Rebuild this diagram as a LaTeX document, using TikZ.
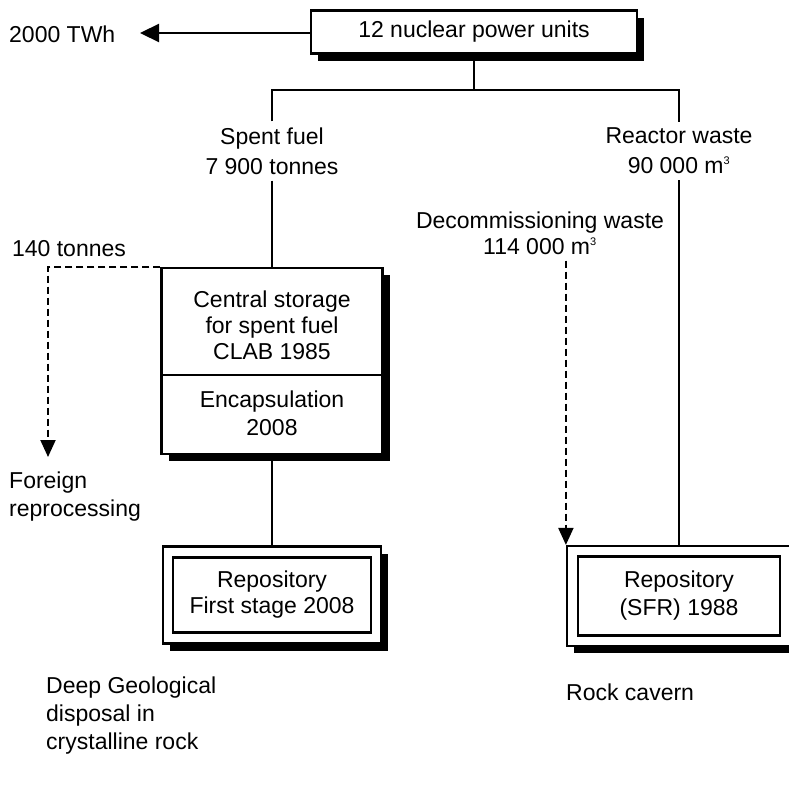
\documentclass[tikz,border=0pt]{standalone}
\usepackage{fontspec}
\setmainfont{Liberation Sans}
\usetikzlibrary{arrows.meta,shadows}
\newcommand\cubic{\textsuperscript{\fontsize{11}{11}\selectfont 3}}
\begin{document}
\begin{tikzpicture}[x=1pt,y=-1pt,
  every node/.style={font=\fontsize{23}{28}\selectfont, align=center, inner sep=2pt},
  label text/.style={inner ysep=6pt},
  box/.style={draw, line width=2.2pt, fill=white,
    drop shadow={shadow xshift=7pt, shadow yshift=-7pt, fill=black, opacity=1}},
  inbox/.style={draw, line width=2.2pt},
  conn/.style={line width=2.2pt},
  arr/.style={line width=2.2pt, -{Triangle[length=19pt,width=18pt]}},
  dasharrow/.style={line width=2pt, dash pattern=on 7pt off 4pt,
    -{Triangle[length=17pt,width=15pt]}}]
\useasboundingbox (0,0) rectangle (789,787);

% power units and electricity output
\node[box, minimum width=326pt, minimum height=43pt] (units) at (474,32) {12 nuclear power units};
\node[anchor=west] (twh) at (7,34) {2000 TWh};
\coordinate (twhtip) at (140,33);
\draw[arr] (units.west |- twhtip) -- (twhtip);

% split into the two waste streams
\coordinate (fork) at (474,90);
\node[label text, font=\fontsize{23}{30}\selectfont] (spent) at (272,151) {Spent fuel\\7 900 tonnes};
\node[label text, font=\fontsize{23}{30}\selectfont] (waste) at (679,151) {Reactor waste\\90 000 m\cubic};
\draw[conn] (units.south) -- (fork);
\draw[conn] (spent.north) |- (fork) -| (waste.north);

% interim storage and encapsulation
\node[box, minimum width=221pt, minimum height=186pt] (clab) at (272,361) {};
\node[font=\fontsize{23}{26}\selectfont] (clabtxt) at (272,325) {Central storage\\for spent fuel\\CLAB 1985};
\draw[conn] ([yshift=-14pt]clab.west) -- ([yshift=-14pt]clab.east);
\node (encap) at (272,413) {Encapsulation\\2008};
\draw[conn] (spent.south) -- (clab.north);

% reprocessing abroad
\node (tonnes) at (69,249) {140 tonnes};
\coordinate (foreigntip) at (48,457);
\draw[dasharrow] (clab.north west) -| (foreigntip);
\node[anchor=west, align=left] (foreign) at (7,497) {Foreign\\reprocessing};

% final repository for spent fuel
\node[box, minimum width=218pt, minimum height=97pt] (repo1) at (272,595) {};
\node[inbox, minimum width=198pt, minimum height=75pt, font=\fontsize{23}{26}\selectfont] (repo1in) at (repo1) {Repository\\First stage 2008};
\draw[conn] (clab.south) -- (repo1.north);

% repository for operational and decommissioning waste
\node[box, minimum width=224pt, minimum height=100pt] (repo2) at (679,596) {};
\node[inbox, minimum width=202pt, minimum height=79pt] (repo2in) at (repo2) {Repository\\(SFR) 1988};
\draw[conn] (waste.south) -- (repo2.north);
\node[label text, font=\fontsize{23}{26}\selectfont] (decom) at (540,233) {Decommissioning waste\\114 000 m\cubic};
\draw[dasharrow] (decom.south -| repo2.west) -- (repo2.north west);

% rock types
\node[anchor=west, align=left] (deep) at (44,716) {Deep Geological\\disposal in\\crystalline rock};
\node[anchor=west] (cavern) at (564,692) {Rock cavern};
\end{tikzpicture}
\end{document}
